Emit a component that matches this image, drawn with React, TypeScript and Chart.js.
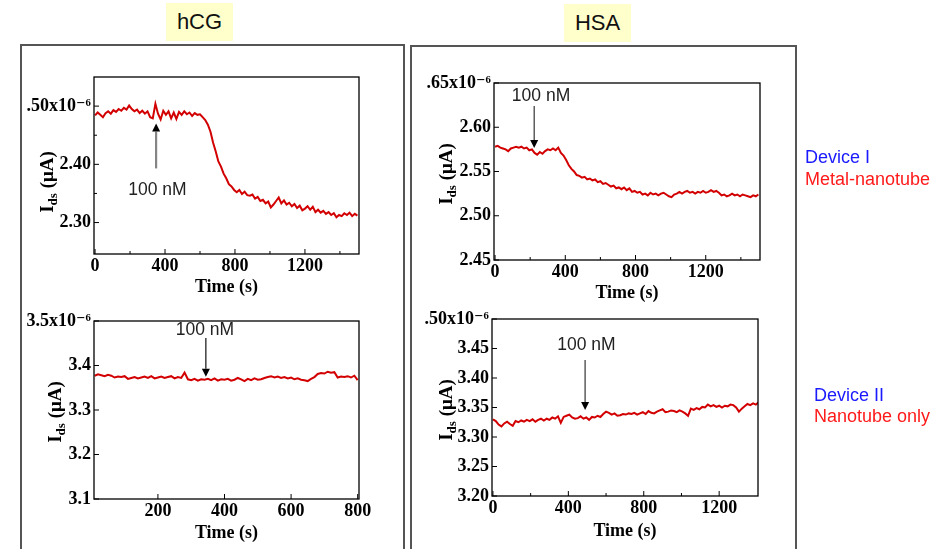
import React, { useEffect, useRef } from 'react';
import { Chart, registerables } from 'chart.js';

Chart.register(...registerables);

const PAGE_W = 948;
const PAGE_H = 549;
const SERIF = '"Liberation Serif", "Times New Roman", "DejaVu Serif", serif';
const SANS = '"Liberation Sans", Arial, "DejaVu Sans", sans-serif';

// ---------- hCG, Device I (metal-nanotube) ----------
const hcgDev1Start = 0;
const hcgDev1Step = 15;
const hcgDev1Current = [
  2.484, 2.489, 2.485, 2.481, 2.488, 2.491, 2.487, 2.493, 2.490, 2.495,
  2.492, 2.497, 2.494, 2.501, 2.495, 2.491, 2.494, 2.488, 2.492, 2.487,
  2.491, 2.481, 2.479, 2.504, 2.487, 2.477, 2.492, 2.485, 2.491, 2.479,
  2.489, 2.478, 2.490, 2.485, 2.491, 2.486, 2.489, 2.483, 2.488, 2.485,
  2.486, 2.481, 2.476, 2.468, 2.456, 2.437, 2.422, 2.405, 2.396, 2.384,
  2.376, 2.366, 2.362, 2.356, 2.352, 2.356, 2.349, 2.353, 2.347, 2.346,
  2.348, 2.341, 2.344, 2.337, 2.339, 2.333, 2.336, 2.326, 2.331, 2.337,
  2.343, 2.333, 2.338, 2.331, 2.334, 2.328, 2.332, 2.325, 2.329, 2.321,
  2.324, 2.328, 2.322, 2.327, 2.318, 2.322, 2.317, 2.320, 2.315, 2.318,
  2.313, 2.316, 2.309, 2.313, 2.311, 2.316, 2.313, 2.317, 2.311, 2.315,
  2.312,
];
const hcgDev1XTicks = [0, 400, 800, 1200];
const hcgDev1XLabels = ['0', '400', '800', '1200'];
const hcgDev1XMinor = [200, 600, 1000, 1400];
const hcgDev1YTicks = [2.3, 2.4, 2.5];
const hcgDev1YLabels = ['2.30', '2.40', '.50x10\u207B\u2076'];
const hcgDev1YMinor = [2.35, 2.45];

// ---------- HSA, Device I ----------
const hsaDev1Start = 0;
const hsaDev1Step = 15;
const hsaDev1Current = [
  2.578, 2.579, 2.577, 2.576, 2.575, 2.573, 2.576, 2.577, 2.578, 2.577,
  2.578, 2.576, 2.577, 2.574, 2.575, 2.571, 2.569, 2.572, 2.570, 2.573,
  2.575, 2.574, 2.576, 2.574, 2.577, 2.571, 2.568, 2.563, 2.557, 2.553,
  2.550, 2.546, 2.545, 2.543, 2.544, 2.541, 2.542, 2.540, 2.541, 2.538,
  2.539, 2.536, 2.537, 2.535, 2.533, 2.534, 2.531, 2.532, 2.530, 2.532,
  2.529, 2.531, 2.527, 2.528, 2.526, 2.527, 2.524, 2.525, 2.523, 2.526,
  2.524, 2.525, 2.523, 2.525, 2.526, 2.524, 2.522, 2.521, 2.524, 2.525,
  2.527, 2.525, 2.527, 2.528, 2.526, 2.527, 2.525, 2.527, 2.526, 2.528,
  2.526, 2.527, 2.529, 2.527, 2.528, 2.526, 2.523, 2.524, 2.522, 2.523,
  2.525, 2.523, 2.524, 2.522, 2.524, 2.523, 2.522, 2.521, 2.523, 2.522,
  2.524,
];
const hsaDev1XTicks = [0, 400, 800, 1200];
const hsaDev1XLabels = ['0', '400', '800', '1200'];
const hsaDev1XMinor = [200, 600, 1000, 1400];
const hsaDev1YTicks = [2.45, 2.5, 2.55, 2.6, 2.65];
const hsaDev1YLabels = ['2.45', '2.50', '2.55', '2.60', '.65x10\u207B\u2076'];
const hsaDev1YMinor: number[] = [];

// ---------- hCG, Device II (nanotube only) ----------
const hcgDev2Start = 10;
const hcgDev2Step = 10;
const hcgDev2Current = [
  3.377, 3.380, 3.378, 3.376, 3.379, 3.377, 3.373, 3.375, 3.374, 3.376,
  3.370, 3.372, 3.374, 3.371, 3.373, 3.375, 3.372, 3.376, 3.371, 3.373,
  3.375, 3.372, 3.374, 3.376, 3.371, 3.374, 3.372, 3.384, 3.369, 3.367,
  3.370, 3.366, 3.369, 3.368, 3.370, 3.367, 3.371, 3.366, 3.369, 3.368,
  3.370, 3.366, 3.368, 3.372, 3.369, 3.365, 3.370, 3.367, 3.371, 3.368,
  3.369, 3.372, 3.374, 3.376, 3.373, 3.375, 3.372, 3.374, 3.371, 3.373,
  3.369, 3.371, 3.368, 3.367, 3.365, 3.370, 3.374, 3.381, 3.383, 3.382,
  3.386, 3.384, 3.385, 3.373, 3.375, 3.374, 3.376, 3.373, 3.377, 3.367,
];
const hcgDev2XTicks = [200, 400, 600, 800];
const hcgDev2XLabels = ['200', '400', '600', '800'];
const hcgDev2XMinor: number[] = [];
const hcgDev2YTicks = [3.1, 3.2, 3.3, 3.4, 3.5];
const hcgDev2YLabels = ['3.1', '3.2', '3.3', '3.4', '3.5x10\u207B\u2076'];
const hcgDev2YMinor: number[] = [];

// ---------- HSA, Device II ----------
const hsaDev2Start = 0;
const hsaDev2Step = 15;
const hsaDev2Current = [
  3.330, 3.327, 3.321, 3.318, 3.323, 3.326, 3.322, 3.319, 3.327, 3.325,
  3.328, 3.326, 3.329, 3.327, 3.330, 3.326, 3.329, 3.331, 3.328, 3.331,
  3.329, 3.333, 3.331, 3.335, 3.324, 3.334, 3.336, 3.338, 3.333, 3.331,
  3.332, 3.335, 3.331, 3.333, 3.329, 3.334, 3.333, 3.336, 3.334, 3.339,
  3.343, 3.341, 3.338, 3.340, 3.336, 3.337, 3.339, 3.338, 3.340, 3.339,
  3.341, 3.338, 3.340, 3.342, 3.339, 3.344, 3.341, 3.340, 3.343, 3.345,
  3.347, 3.342, 3.343, 3.345, 3.344, 3.342, 3.345, 3.343, 3.340, 3.336,
  3.348, 3.346, 3.349, 3.347, 3.351, 3.350, 3.355, 3.352, 3.354, 3.351,
  3.353, 3.350, 3.353, 3.352, 3.355, 3.354, 3.350, 3.343, 3.348, 3.352,
  3.356, 3.354, 3.357, 3.355, 3.359,
];
const hsaDev2XTicks = [0, 400, 800, 1200];
const hsaDev2XLabels = ['0', '400', '800', '1200'];
const hsaDev2XMinor = [200, 600, 1000];
const hsaDev2YTicks = [3.2, 3.25, 3.3, 3.35, 3.4, 3.45, 3.5];
const hsaDev2YLabels = ['3.20', '3.25', '3.30', '3.35', '3.40', '3.45', '.50x10\u207B\u2076'];
const hsaDev2YMinor: number[] = [];

// ---------- annotations (data coordinates) ----------
const ANNOTATION_TEXT = '100 nM';
const hcgDev1Arrow = { t: 349, from: 2.393, to: 2.47, labelT: 357, labelV: 2.355 };
const hsaDev1Arrow = { t: 223, from: 2.624, to: 2.5766, labelT: 262, labelV: 2.6354 };
const hcgDev2Arrow = { t: 344, from: 3.4618, to: 3.3748, labelT: 341, labelV: 3.4798 };
const hsaDev2Arrow = { t: 489, from: 3.4305, to: 3.3458, labelT: 496, labelV: 3.456 };

type Arrow = { t: number; from: number; to: number; labelT: number; labelV: number };

type PanelCfg = {
  key: string;
  start: number;
  step: number;
  values: number[];
  xMin: number;
  xMax: number;
  yMin: number;
  yMax: number;
  xTicks: number[];
  xLabels: string[];
  xMinor: number[];
  yTicks: number[];
  yLabels: string[];
  yMinor: number[];
  arrow: Arrow;
  area: { l: number; t: number; r: number; b: number };
  xTitleY: number;
  yTitleX: number;
  yTitleY: number;
  arrowColor: string;
  arrowWidth: number;
};

const panels: PanelCfg[] = [
  {
    key: 'hcg1', start: hcgDev1Start, step: hcgDev1Step, values: hcgDev1Current,
    xMin: -6, xMax: 1509, yMin: 2.246, yMax: 2.55,
    xTicks: hcgDev1XTicks, xLabels: hcgDev1XLabels, xMinor: hcgDev1XMinor,
    yTicks: hcgDev1YTicks, yLabels: hcgDev1YLabels, yMinor: hcgDev1YMinor,
    arrow: hcgDev1Arrow,
    area: { l: 94, t: 77, r: 359, b: 254 }, xTitleY: 287.3, yTitleX: 47, yTitleY: 182,
    arrowColor: '#858585', arrowWidth: 2.2,
  },
  {
    key: 'hsa1', start: hsaDev1Start, step: hsaDev1Step, values: hsaDev1Current,
    xMin: -6, xMax: 1509, yMin: 2.45, yMax: 2.65,
    xTicks: hsaDev1XTicks, xLabels: hsaDev1XLabels, xMinor: hsaDev1XMinor,
    yTicks: hsaDev1YTicks, yLabels: hsaDev1YLabels, yMinor: hsaDev1YMinor,
    arrow: hsaDev1Arrow,
    area: { l: 494, t: 83, r: 760, b: 260 }, xTitleY: 293.3, yTitleX: 446, yTitleY: 174,
    arrowColor: '#444444', arrowWidth: 1.3,
  },
  {
    key: 'hcg2', start: hcgDev2Start, step: hcgDev2Step, values: hcgDev2Current,
    xMin: 8, xMax: 804, yMin: 3.1, yMax: 3.5,
    xTicks: hcgDev2XTicks, xLabels: hcgDev2XLabels, xMinor: hcgDev2XMinor,
    yTicks: hcgDev2YTicks, yLabels: hcgDev2YLabels, yMinor: hcgDev2YMinor,
    arrow: hcgDev2Arrow,
    area: { l: 94, t: 321, r: 359, b: 499 }, xTitleY: 533.3, yTitleX: 55, yTitleY: 412,
    arrowColor: '#111111', arrowWidth: 1.2,
  },
  {
    key: 'hsa2', start: hsaDev2Start, step: hsaDev2Step, values: hsaDev2Current,
    xMin: -5, xMax: 1406, yMin: 3.2, yMax: 3.5,
    xTicks: hsaDev2XTicks, xLabels: hsaDev2XLabels, xMinor: hsaDev2XMinor,
    yTicks: hsaDev2YTicks, yLabels: hsaDev2YLabels, yMinor: hsaDev2YMinor,
    arrow: hsaDev2Arrow,
    area: { l: 492, t: 319, r: 758, b: 496 }, xTitleY: 531, yTitleX: 446, yTitleY: 410,
    arrowColor: '#666666', arrowWidth: 1.6,
  },
];

const Y_AXIS_W = 70;
const TITLE_HALF_LINE = 10.8; // 18px * 1.2 / 2

function drawYTitle(ctx: CanvasRenderingContext2D, cx: number, cy: number) {
  ctx.save();
  ctx.translate(cx, cy);
  ctx.rotate(-Math.PI / 2);
  const big = `bold 19px ${SERIF}`;
  const small = `bold 13px ${SERIF}`;
  ctx.font = big;
  const wI = ctx.measureText('I').width;
  const wRest = ctx.measureText(' (\u03BCA)').width;
  ctx.font = small;
  const wds = ctx.measureText('ds').width;
  const total = wI + wds + wRest;
  let x = -total / 2;
  const base = 6;
  ctx.fillStyle = '#000';
  ctx.textAlign = 'left';
  ctx.textBaseline = 'alphabetic';
  ctx.font = big;
  ctx.fillText('I', x, base);
  x += wI;
  ctx.font = small;
  ctx.fillText('ds', x, base + 4);
  x += wds;
  ctx.font = big;
  ctx.fillText(' (\u03BCA)', x, base);
  ctx.restore();
}

function makeDecor(p: PanelCfg) {
  return {
    id: 'decor-' + p.key,
    afterDraw(chart: any) {
      const ctx: CanvasRenderingContext2D = chart.ctx;
      const a = chart.chartArea;
      const xs = chart.scales.x;
      const ys = chart.scales.y;
      const line = (x1: number, y1: number, x2: number, y2: number) => {
        ctx.beginPath();
        ctx.moveTo(x1, y1);
        ctx.lineTo(x2, y2);
        ctx.stroke();
      };
      ctx.save();
      ctx.strokeStyle = '#000';
      ctx.lineWidth = 1.3;
      ctx.strokeRect(a.left, a.top, a.right - a.left, a.bottom - a.top);
      ctx.lineWidth = 1;
      p.xTicks.forEach((v) => { const px = xs.getPixelForValue(v); line(px, a.bottom, px, a.bottom - 5); });
      p.xMinor.forEach((v) => { const px = xs.getPixelForValue(v); line(px, a.bottom, px, a.bottom - 3); });
      p.yTicks.forEach((v) => { const py = ys.getPixelForValue(v); line(a.left, py, a.left + 5, py); });
      p.yMinor.forEach((v) => { const py = ys.getPixelForValue(v); line(a.left, py, a.left + 3, py); });

      const ar = p.arrow;
      const ax = xs.getPixelForValue(ar.t);
      const y0 = ys.getPixelForValue(ar.from);
      const y1 = ys.getPixelForValue(ar.to);
      const dir = Math.sign(y1 - y0);
      const headLen = 8;
      const headHalf = 4;
      ctx.strokeStyle = p.arrowColor;
      ctx.lineWidth = p.arrowWidth;
      line(ax, y0, ax, y1 - dir * headLen);
      ctx.fillStyle = '#000';
      ctx.beginPath();
      ctx.moveTo(ax, y1);
      ctx.lineTo(ax - headHalf, y1 - dir * headLen);
      ctx.lineTo(ax + headHalf, y1 - dir * headLen);
      ctx.closePath();
      ctx.fill();
      ctx.font = `17.5px ${SANS}`;
      ctx.fillStyle = '#222';
      ctx.textAlign = 'center';
      ctx.textBaseline = 'middle';
      ctx.fillText(ANNOTATION_TEXT, xs.getPixelForValue(ar.labelT), ys.getPixelForValue(ar.labelV));

      drawYTitle(ctx, p.yTitleX, p.yTitleY);
      ctx.restore();
    },
  };
}

function buildConfig(p: PanelCfg): any {
  const pts = p.values.map((v, i) => ({ x: p.start + i * p.step, y: v }));
  const xAxisH = p.xTitleY - p.area.b + TITLE_HALF_LINE;
  const tickFont = { family: SERIF, size: 18, weight: 'bold' as const };
  return {
    type: 'line',
    data: {
      datasets: [
        {
          data: pts,
          borderColor: '#d20000',
          borderWidth: 2,
          pointRadius: 0,
          tension: 0,
          fill: false,
        },
      ],
    },
    options: {
      responsive: false,
      animation: false,
      devicePixelRatio: 1,
      layout: {
        padding: {
          left: p.area.l - Y_AXIS_W,
          top: p.area.t,
          right: PAGE_W - p.area.r,
          bottom: Math.max(0, PAGE_H - p.area.b - xAxisH),
        },
      },
      plugins: { legend: { display: false }, tooltip: { enabled: false } },
      scales: {
        x: {
          type: 'linear',
          min: p.xMin,
          max: p.xMax,
          grid: { display: false, drawTicks: false },
          border: { display: false },
          ticks: {
            autoSkip: false,
            maxRotation: 0,
            padding: 2,
            color: '#000',
            font: tickFont,
            callback: (_v: any, i: number) => p.xLabels[i] ?? '',
          },
          afterBuildTicks: (s: any) => { s.ticks = p.xTicks.map((v) => ({ value: v })); },
          afterFit: (s: any) => { s.height = xAxisH; },
          title: {
            display: true,
            text: 'Time (s)',
            color: '#000',
            font: { family: SERIF, size: 18, weight: 'bold' },
            padding: 0,
          },
        },
        y: {
          type: 'linear',
          min: p.yMin,
          max: p.yMax,
          grid: { display: false, drawTicks: false },
          border: { display: false },
          ticks: {
            autoSkip: false,
            padding: 3,
            color: '#000',
            font: tickFont,
            callback: (_v: any, i: number) => p.yLabels[i] ?? '',
          },
          afterBuildTicks: (s: any) => { s.ticks = p.yTicks.map((v) => ({ value: v })); },
          afterFit: (s: any) => { s.width = Y_AXIS_W; },
        },
      },
    },
    plugins: [makeDecor(p)],
  };
}

function Panel({ cfg }: { cfg: PanelCfg }) {
  const ref = useRef<HTMLCanvasElement | null>(null);
  useEffect(() => {
    if (!ref.current) return;
    const chart = new Chart(ref.current, buildConfig(cfg));
    return () => chart.destroy();
  }, [cfg]);
  return (
    <canvas
      ref={ref}
      width={PAGE_W}
      height={PAGE_H}
      style={{ position: 'absolute', left: 0, top: 0, width: PAGE_W, height: PAGE_H }}
    />
  );
}

const labelBox: React.CSSProperties = {
  position: 'absolute',
  width: 67,
  height: 38,
  background: '#ffffcc',
  display: 'flex',
  alignItems: 'center',
  justifyContent: 'center',
  fontFamily: SANS,
  fontSize: 22,
  color: '#111',
};

const outerBox: React.CSSProperties = {
  position: 'absolute',
  height: 560,
  borderTop: '2px solid #555',
  borderLeft: '2px solid #555',
  borderRight: '2px solid #555',
  boxSizing: 'border-box',
};

export default function App() {
  return (
    <div
      style={{
        position: 'fixed',
        left: 0,
        top: 0,
        width: PAGE_W,
        height: PAGE_H,
        overflow: 'hidden',
        background: '#fff',
      }}
    >
      <div style={{ ...outerBox, left: 20, top: 44, width: 385 }} />
      <div style={{ ...outerBox, left: 410, top: 45, width: 387 }} />
      {panels.map((p) => (
        <Panel key={p.key} cfg={p} />
      ))}
      <div style={{ ...labelBox, left: 166, top: 3 }}>hCG</div>
      <div style={{ ...labelBox, left: 564, top: 4 }}>HSA</div>
      <div
        style={{
          position: 'absolute',
          left: 805,
          top: 146,
          fontFamily: SANS,
          fontSize: 18,
          lineHeight: '22px',
          whiteSpace: 'nowrap',
        }}
      >
        <div style={{ color: '#1a1aff' }}>Device I</div>
        <div style={{ color: '#ff1a1a' }}>Metal-nanotube</div>
      </div>
      <div
        style={{
          position: 'absolute',
          left: 814,
          top: 385,
          fontFamily: SANS,
          fontSize: 18,
          lineHeight: '21px',
          whiteSpace: 'nowrap',
        }}
      >
        <div style={{ color: '#1a1aff' }}>Device II</div>
        <div style={{ color: '#ff1a1a' }}>Nanotube only</div>
      </div>
    </div>
  );
}
